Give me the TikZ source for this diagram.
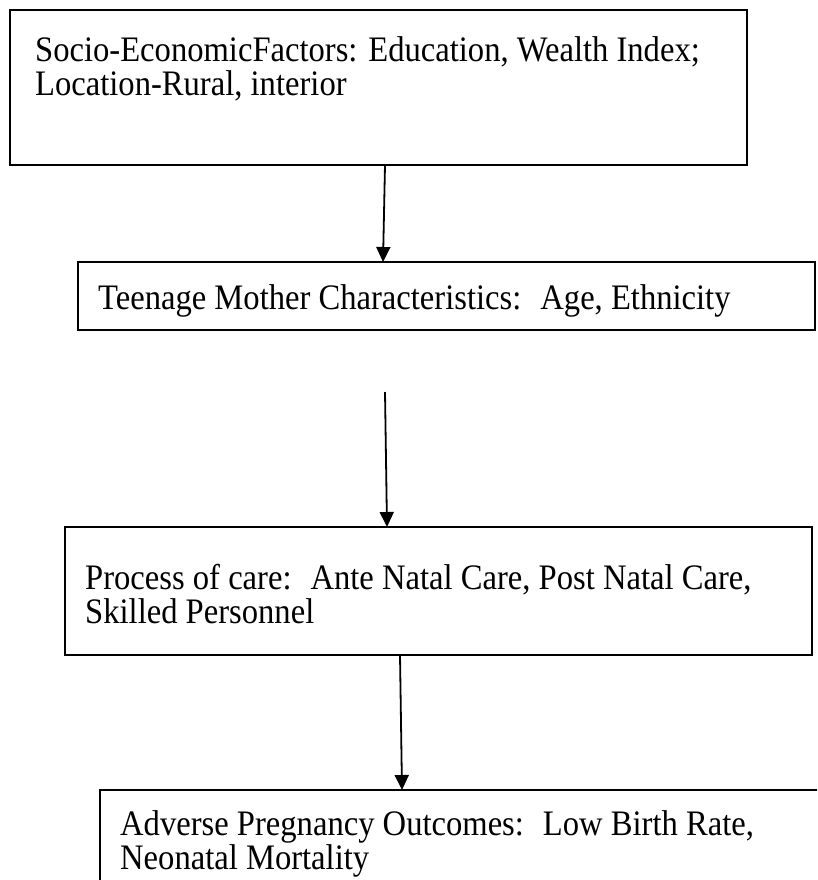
\documentclass[tikz,border=0pt]{standalone}
\usepackage{fontspec}
\usepackage{graphicx}
\setmainfont{Liberation Serif}
\usetikzlibrary{arrows.meta}
\newcommand{\tallt}[1]{\scalebox{1}[1.1]{#1}}
\begin{document}
\begin{tikzpicture}[x=1pt,y=-1pt,
  box/.style={draw=black, line width=1.8pt, fill=none, inner sep=0pt, outer sep=0pt, anchor=north west},
  txt/.style={anchor=base west, inner sep=0pt, font=\fontsize{32.6}{33}\selectfont},
  arr/.style={draw=black, line width=1.8pt, -{Triangle[length=15pt,width=14pt]}}]
\clip (0,0) rectangle (817,880);
\fill[white] (0,0) rectangle (817,880);
% boxes
\node[box, minimum width=737pt, minimum height=155pt] (b1) at (10,10) {};
\node[box, minimum width=737pt, minimum height=68pt] (b2) at (78,262) {};
\node[box, minimum width=747pt, minimum height=128pt] (b3) at (65,527) {};
\node[box, minimum width=760pt, minimum height=130pt] (b4) at (100,790) {};
% texts
\node[txt] (t1a) at (35,62) {\tallt{Socio-EconomicFactors: Education, Wealth Index;}};
\node[txt] (t1b) at (35,96) {\tallt{Location-Rural, interior}};
\node[txt] (t2) at (98,309) {\tallt{Teenage Mother Characteristics:~ Age, Ethnicity}};
\node[txt] (t3a) at (85,589) {\tallt{Process of care:~ Ante Natal Care, Post Natal Care,}};
\node[txt] (t3b) at (85,623) {\tallt{Skilled Personnel}};
\node[txt] (t4a) at (120,835) {\tallt{Adverse Pregnancy Outcomes:~ Low Birth Rate,}};
\node[txt] (t4b) at (120,869) {\tallt{Neonatal Mortality}};
% connectors
\coordinate (a2s) at ([xshift=307pt,yshift=-62pt]b2.south west);
\draw[arr] ([xshift=375pt]b1.south west) -- ([xshift=305pt]b2.north west);
\draw[arr] (a2s) -- ([xshift=322pt]b3.north west);
\draw[arr] ([xshift=335pt]b3.south west) -- ([xshift=302pt]b4.north west);
\end{tikzpicture}
\end{document}
